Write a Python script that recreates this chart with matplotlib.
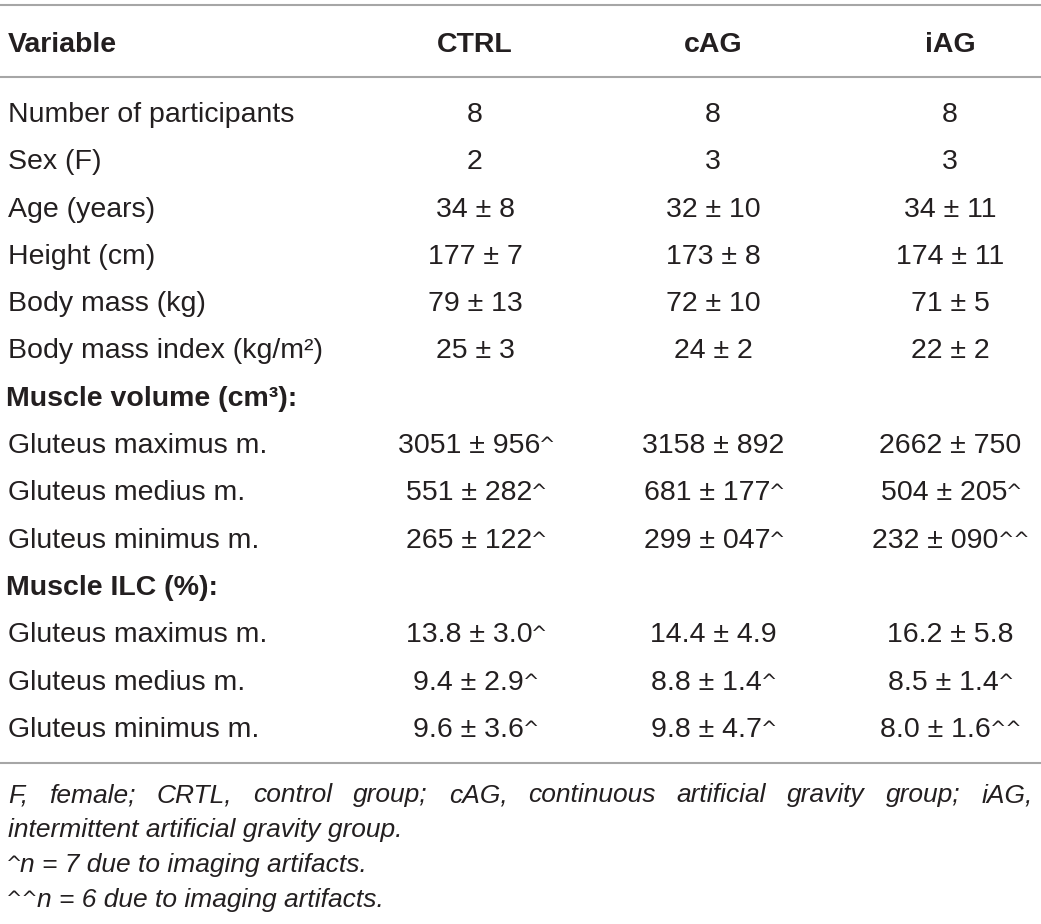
import matplotlib
matplotlib.use("Agg")
import matplotlib.pyplot as plt

plt.rcParams['font.family'] = ['Liberation Sans', 'DejaVu Sans']

W, H = 1041, 924
TEXT = '#231f20'
RULE = '#a6a6a6'

headers = ["Variable", "CTRL", "cAG", "iAG"]

row_labels = [
    "Number of participants", "Sex (F)", "Age (years)", "Height (cm)",
    "Body mass (kg)", "Body mass index (kg/m\u00b2)",
    "Muscle volume (cm\u00b3):",
    "Gluteus maximus m.", "Gluteus medius m.", "Gluteus minimus m.",
    "Muscle ILC (%):",
    "Gluteus maximus m.", "Gluteus medius m.", "Gluteus minimus m.",
]
section_rows = [6, 10]
# "^" marks at the end of a value are drawn as a small raised suffix
ctrl = ["8", "2", "34 \u00b1 8", "177 \u00b1 7", "79 \u00b1 13", "25 \u00b1 3", "",
        "3051 \u00b1 956^", "551 \u00b1 282^", "265 \u00b1 122^", "",
        "13.8 \u00b1 3.0^", "9.4 \u00b1 2.9^", "9.6 \u00b1 3.6^"]
cag = ["8", "3", "32 \u00b1 10", "173 \u00b1 8", "72 \u00b1 10", "24 \u00b1 2", "",
       "3158 \u00b1 892", "681 \u00b1 177^", "299 \u00b1 047^", "",
       "14.4 \u00b1 4.9", "8.8 \u00b1 1.4^", "9.8 \u00b1 4.7^"]
iag = ["8", "3", "34 \u00b1 11", "174 \u00b1 11", "71 \u00b1 5", "22 \u00b1 2", "",
       "2662 \u00b1 750", "504 \u00b1 205^", "232 \u00b1 090^^", "",
       "16.2 \u00b1 5.8", "8.5 \u00b1 1.4^", "8.0 \u00b1 1.6^^"]

footnote1 = ("F, female; CRTL, control group; cAG, continuous artificial "
             "gravity group; iAG,")
footnote2 = "intermittent artificial gravity group."
footnote3 = ("^", "n = 7 due to imaging artifacts.")
footnote4 = ("^^", "n = 6 due to imaging artifacts.")

fig = plt.figure(figsize=(W / 100, H / 100), dpi=100)
ax = fig.add_axes([0, 0, 1, 1])
ax.set_xlim(0, W)
ax.set_ylim(H, 0)
ax.axis('off')
renderer = fig.canvas.get_renderer()

FS = 20.5
FS_SUP = 14
FS_NOTE = 19
LEFT, RIGHT = 8, 1033
col_x = [475, 713, 950]
header_y = 52
row_y0, row_step = 122, 47.3
note_y = [802, 837, 872, 907]


def width(t):
    return t.get_window_extent(renderer).width


def caret(x, y, marks):
    return ax.text(x, y - 2, marks, fontsize=FS_SUP, color=TEXT,
                   family='DejaVu Sans', va='baseline', ha='left')


def cell(xc, y, s):
    main = s.rstrip("^")
    marks = s[len(main):]
    t = ax.text(0, y, main, fontsize=FS, color=TEXT, va='baseline', ha='left')
    w = width(t)
    m = caret(0, y, marks) if marks else None
    wm = width(m) - 4 if m else 0
    x0 = xc - (w + wm) / 2
    t.set_x(x0)
    if m:
        m.set_x(x0 + w - 1)


# rules
for y in [5, 77, 763]:
    ax.plot([0, W], [y, y], color=RULE, lw=1.5, solid_capstyle='butt')

# header
ax.text(LEFT, header_y, headers[0], fontsize=FS, fontweight='bold',
        color=TEXT, va='baseline')
for xc, h in zip(col_x, headers[1:]):
    ax.text(xc, header_y, h, fontsize=FS, fontweight='bold', color=TEXT,
            va='baseline', ha='center')

# body
for i, lab in enumerate(row_labels):
    y = row_y0 + i * row_step
    bold = i in section_rows
    ax.text(LEFT if not bold else 6, y, lab, fontsize=FS, color=TEXT,
            fontweight='bold' if bold else 'normal', va='baseline')
    for xc, col in zip(col_x, [ctrl, cag, iag]):
        if col[i]:
            cell(xc, y, col[i])

# footnotes: first line justified to the full width
words = footnote1.split(" ")
ts = [ax.text(0, note_y[0], wd, fontsize=FS_NOTE, style='italic',
              color=TEXT, va='baseline') for wd in words]
ws = [width(t) for t in ts]
gap = (RIGHT - LEFT - sum(ws)) / (len(ws) - 1)
x = LEFT
for t, w in zip(ts, ws):
    t.set_x(x)
    x += w + gap

ax.text(LEFT, note_y[1], footnote2, fontsize=FS_NOTE, style='italic',
        color=TEXT, va='baseline')
for y, (mk, txt) in zip(note_y[2:], [footnote3, footnote4]):
    m = caret(LEFT - 2, y, mk)
    ax.text(LEFT + width(m) - 4, y, txt, fontsize=FS_NOTE, style='italic',
            color=TEXT, va='baseline')

fig.savefig("out.png", dpi=100)
